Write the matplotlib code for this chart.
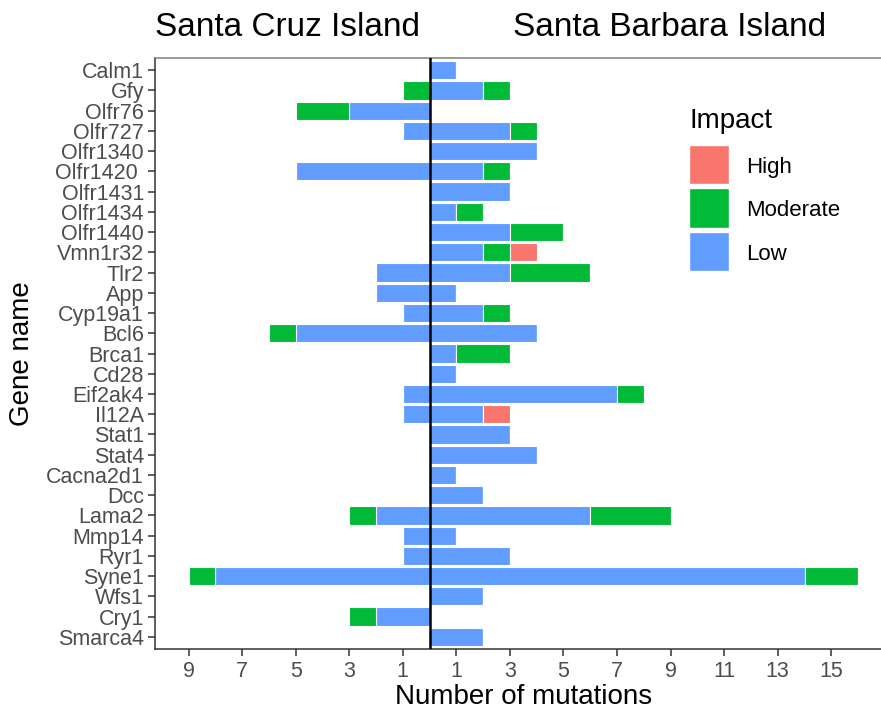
"""Mutation counts per gene on two islands, split by impact (back-to-back bars)."""

import matplotlib
matplotlib.use("Agg")
import matplotlib.pyplot as plt
import numpy as np
from matplotlib.legend_handler import HandlerPatch
from matplotlib.patches import Patch, Rectangle

plt.rcParams["font.family"] = ["Liberation Sans", "DejaVu Sans"]

genes = ["Calm1", "Gfy", "Olfr76", "Olfr727", "Olfr1340", "Olfr1420 ", "Olfr1431",
         "Olfr1434", "Olfr1440", "Vmn1r32", "Tlr2", "App", "Cyp19a1", "Bcl6",
         "Brca1", "Cd28", "Eif2ak4", "Il12A", "Stat1", "Stat4", "Cacna2d1", "Dcc",
         "Lama2", "Mmp14", "Ryr1", "Syne1", "Wfs1", "Cry1", "Smarca4"]

cruz_low = [0, 0, 3, 1, 0, 5, 0, 0, 0, 0, 2, 2, 1, 5, 0, 0, 1, 1, 0, 0, 0, 0, 2, 1, 1, 8, 0, 2, 0]
cruz_moderate = [0, 1, 2, 0, 0, 0, 0, 0, 0, 0, 0, 0, 0, 1, 0, 0, 0, 0, 0, 0, 0, 0, 1, 0, 0, 1, 0, 1, 0]
barbara_low = [1, 2, 0, 3, 4, 2, 3, 1, 3, 2, 3, 1, 2, 4, 1, 1, 7, 2, 3, 4, 1, 2, 6, 1, 3, 14, 2, 0, 2]
barbara_moderate = [0, 1, 0, 1, 0, 1, 0, 1, 2, 1, 3, 0, 1, 0, 2, 0, 1, 0, 0, 0, 0, 0, 3, 0, 0, 2, 0, 0, 0]
barbara_high = [0, 0, 0, 0, 0, 0, 0, 0, 0, 1, 0, 0, 0, 0, 0, 0, 0, 1, 0, 0, 0, 0, 0, 0, 0, 0, 0, 0, 0]

tick_values = [-9, -7, -5, -3, -1, 1, 3, 5, 7, 9, 11, 13, 15]

COLORS = {"High": "#F8766D", "Moderate": "#00BA38", "Low": "#619CFF"}
TEXT_GREY = "#4d4d4d"


def _key_patch(legend, orig_handle, xdescent, ydescent, width, height, fontsize):
    """Square legend key, taller than the text row, centred on the label."""
    size = 1.76 * fontsize
    centre = -ydescent + 0.38 * fontsize
    return Rectangle((-xdescent, centre - size / 2), width, size)


def main() -> None:
    fig = plt.figure(figsize=(8.81, 7.12), dpi=100)
    ax = fig.add_axes([0.176, 0.0885, 0.836, 0.83])

    y = np.arange(len(genes))
    cl, cm = np.array(cruz_low), np.array(cruz_moderate)
    bl, bm, bh = np.array(barbara_low), np.array(barbara_moderate), np.array(barbara_high)
    bar = dict(height=0.9, edgecolor="white", linewidth=0.8)

    # Santa Cruz to the left (negative), Santa Barbara to the right
    ax.barh(y, -cl, color=COLORS["Low"], **bar)
    ax.barh(y, -cm, left=-cl, color=COLORS["Moderate"], **bar)
    ax.barh(y, bl, color=COLORS["Low"], **bar)
    ax.barh(y, bm, left=bl, color=COLORS["Moderate"], **bar)
    ax.barh(y, bh, left=bl + bm, color=COLORS["High"], **bar)
    ax.axvline(0, color="black", linewidth=1.8, zorder=5)

    ax.set_xlim(-10.25, 17.25)
    ax.set_ylim(len(genes) - 0.4, -0.6)
    ax.set_yticks(y, genes)
    ax.set_xticks(tick_values, [str(abs(v)) for v in tick_values])
    ax.tick_params(colors="#333333", labelcolor=TEXT_GREY, labelsize=15.5,
                   length=5, width=1.1)
    ax.tick_params(axis="x", pad=4)
    ax.tick_params(axis="y", pad=3)
    for side in ("left", "bottom", "top", "right"):
        ax.spines[side].set_color("#333333")
        ax.spines[side].set_linewidth(1.1)
    ax.spines["top"].set_color("#7f7f7f")

    ax.set_xlabel("Number of mutations", fontsize=20, labelpad=1)
    ax.set_ylabel("Gene name", fontsize=20, labelpad=8)

    fig.text(0.326, 0.962, "Santa Cruz Island", fontsize=24, ha="center", va="center")
    fig.text(0.760, 0.962, "Santa Barbara Island", fontsize=24, ha="center", va="center")

    handles = [Patch(facecolor=COLORS[k], edgecolor="white") for k in ("High", "Moderate", "Low")]
    leg = ax.legend(handles, ["High", "Moderate", "Low"], title="Impact",
                    loc="upper left", bbox_to_anchor=(0.725, 0.916), frameon=False,
                    borderaxespad=0, borderpad=0,
                    handler_map={Patch: HandlerPatch(patch_func=_key_patch)},
                    fontsize=16, title_fontsize=20, handlelength=1.8,
                    labelspacing=1.03, handletextpad=0.77, alignment="left")
    leg.get_title().set_color("black")
    leg._legend_handle_box.sep = 0

    fig.savefig("out.png", dpi=100)
    plt.close(fig)


if __name__ == "__main__":
    main()
